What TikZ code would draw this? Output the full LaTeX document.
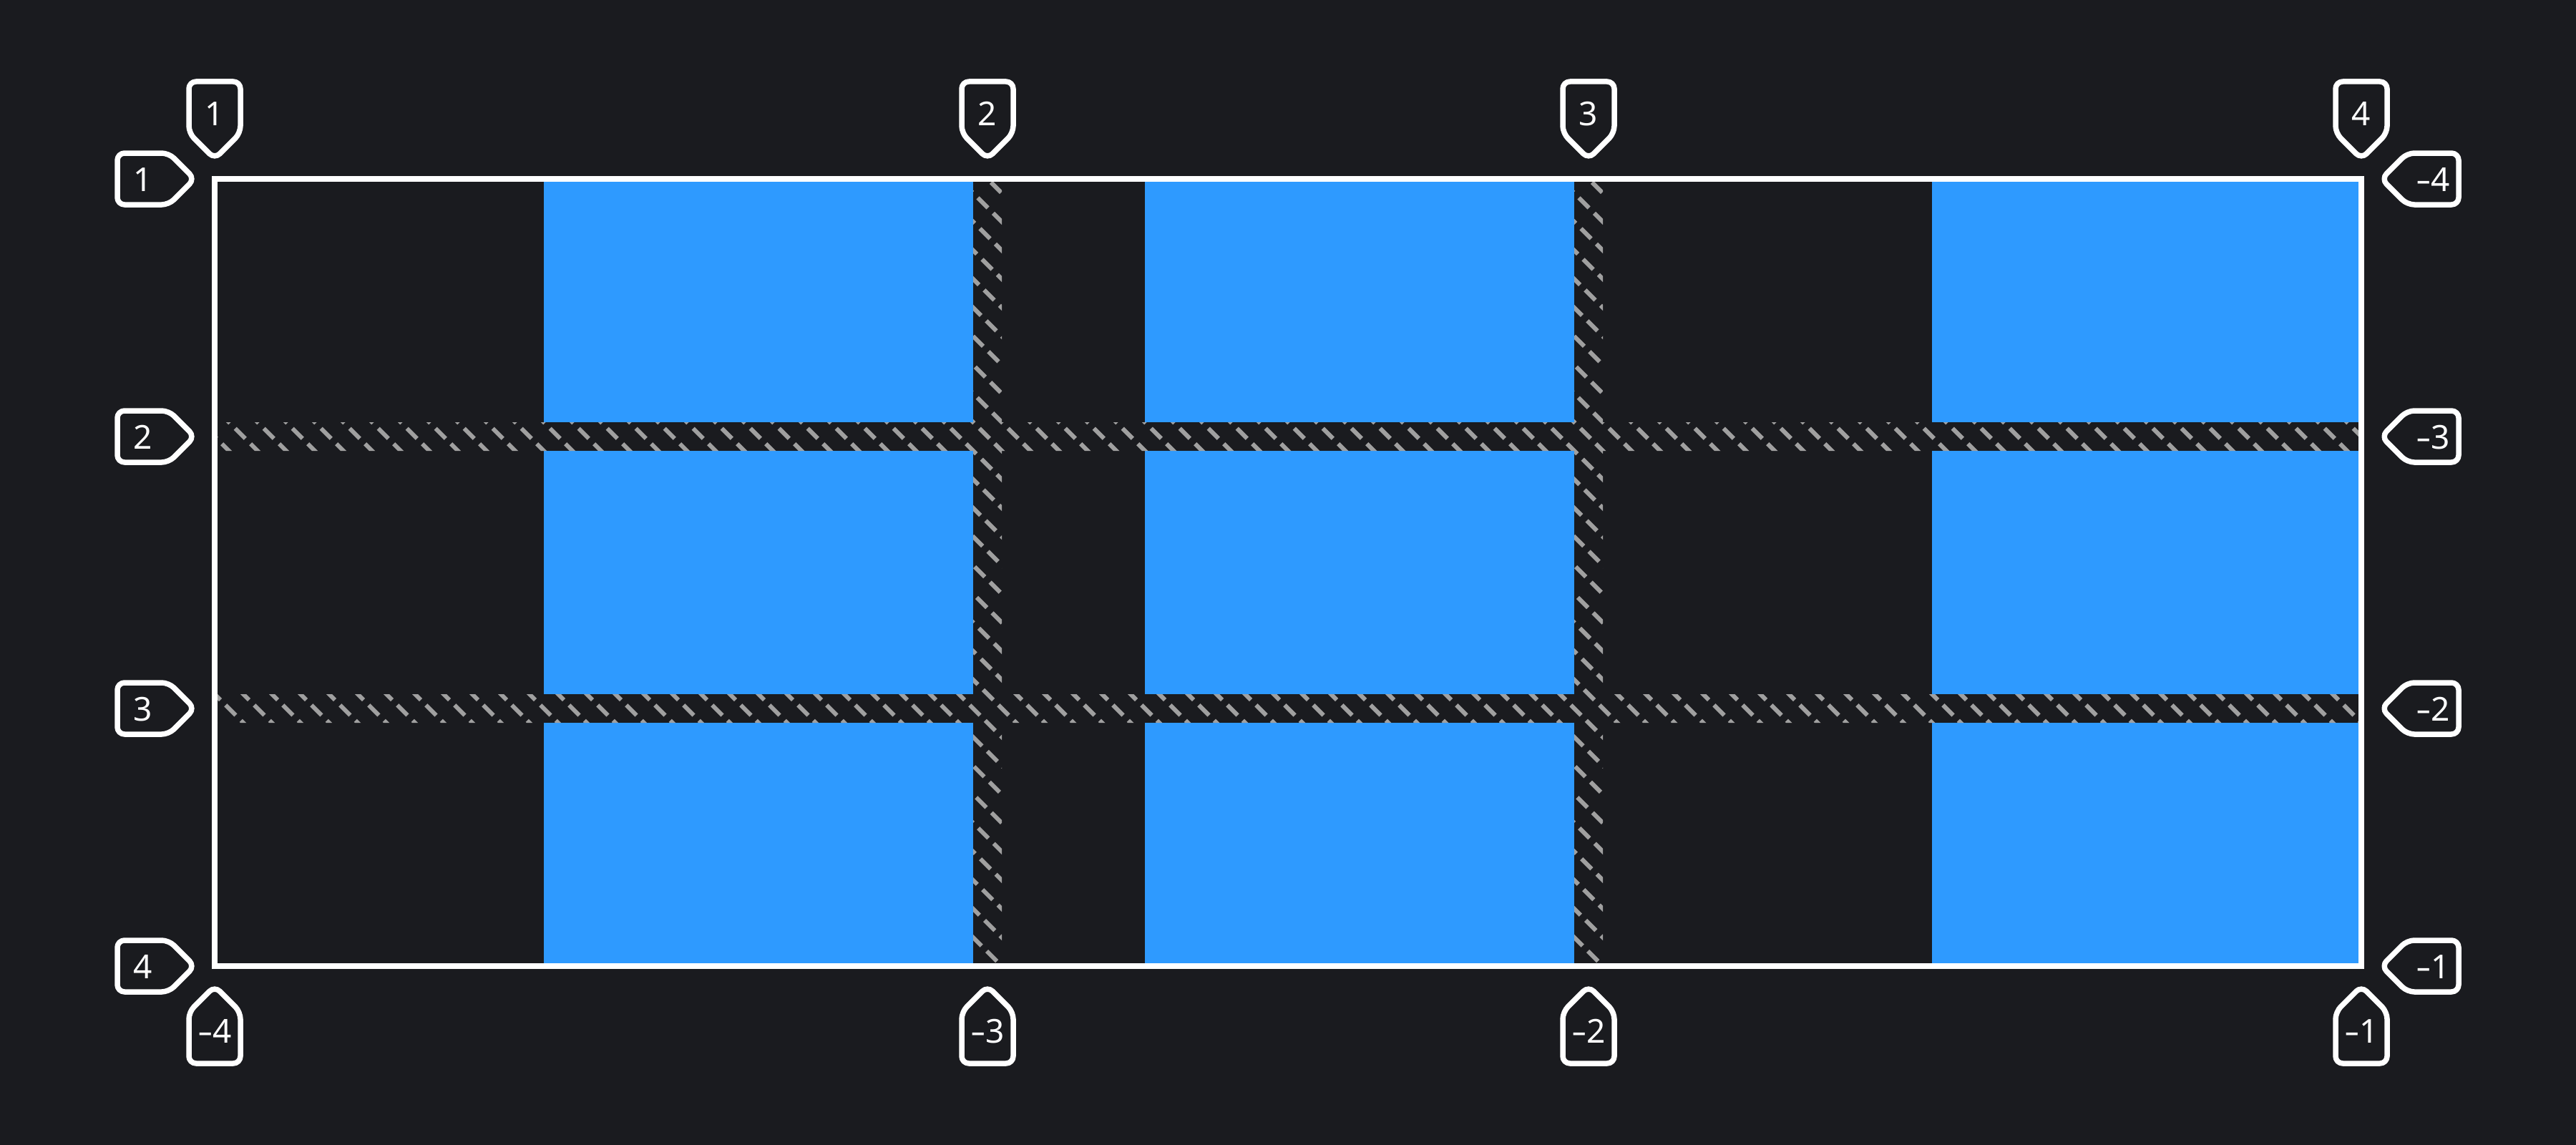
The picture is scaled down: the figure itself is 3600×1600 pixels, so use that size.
\documentclass[tikz,border=0pt]{standalone}
\usepackage{fontspec}
\setmainfont{Noto Sans}
\definecolor{bg}{RGB}{26,27,31}
\definecolor{cellblue}{RGB}{46,154,255}
\definecolor{hatchgray}{RGB}{160,160,160}
\newcommand{\negsign}{\scalebox{1.45}[1]{-}}
\begin{document}
\begin{tikzpicture}[x=1pt,y=-1pt,
  tagline/.style={draw=white,line width=7.5pt,rounded corners=10pt,line join=round},
  taglabel/.style={text=white,inner sep=0pt,font=\fontsize{46}{50}\selectfont},
  cellbox/.style={fill=cellblue,draw=none},
  hatchline/.style={draw=hatchgray,line width=6pt,dash pattern=on 20pt off 10.38pt},
  framebox/.style={draw=white,line width=8pt}]
\useasboundingbox (0,0) rectangle (3600,1600);
\fill[bg] (0,0) rectangle (3600,1600);
% grid items
\foreach \cx in {760,1600,2700}{
  \foreach \ry in {250,630,1010}{
    \path[cellbox] (\cx,\ry) rectangle ++(600,340);
  }
}
% gap hatching
\begin{scope}
  \clip (300,590) rectangle (3300,630)
        (300,970) rectangle (3300,1010)
        (1360,250) rectangle (1400,1350)
        (2200,250) rectangle (2240,1350);
  \foreach \k in {-30,...,80}{
    \draw[hatchline] ({222+40*\k},212) -- ++(1200,1200);
  }
\end{scope}
% grid frame
\draw[framebox] (300,250) rectangle (3300,1350);
% top line tags
\foreach \X/\t [count=\i] in {300/1,1380/2,2220/3,3300/4}{
  \begin{scope}[shift={(\X,222)}]
    \draw[tagline] (0,-108) -- (36,-108) -- (36,-36) -- (0,0) -- (-36,-36) -- (-36,-108) -- cycle;
  \end{scope}
  \node[taglabel] (top\i) at (\X,159) {\t};
}
% bottom line tags
\foreach \X/\t [count=\i] in {300/4,1380/3,2220/2,3300/1}{
  \begin{scope}[shift={(\X,1378)}]
    \draw[tagline] (0,108) -- (36,108) -- (36,36) -- (0,0) -- (-36,36) -- (-36,108) -- cycle;
  \end{scope}
  \node[taglabel] (bot\i) at (\X,1441) {\negsign\t};
}
% left line tags
\foreach \Y/\t [count=\i] in {250/1,610/2,990/3,1350/4}{
  \begin{scope}[shift={(272,\Y)}]
    \draw[tagline] (-108,0) -- (-108,-36) -- (-36,-36) -- (0,0) -- (-36,36) -- (-108,36) -- cycle;
  \end{scope}
  \node[taglabel] (lft\i) at (200,\Y+1) {\t};
}
% right line tags
\foreach \Y/\t [count=\i] in {250/4,610/3,990/2,1350/1}{
  \begin{scope}[shift={(3328,\Y)}]
    \draw[tagline] (108,0) -- (108,-36) -- (36,-36) -- (0,0) -- (36,36) -- (108,36) -- cycle;
  \end{scope}
  \node[taglabel] (rgt\i) at (3400,\Y+1) {\negsign\t};
}
\end{tikzpicture}
\end{document}
